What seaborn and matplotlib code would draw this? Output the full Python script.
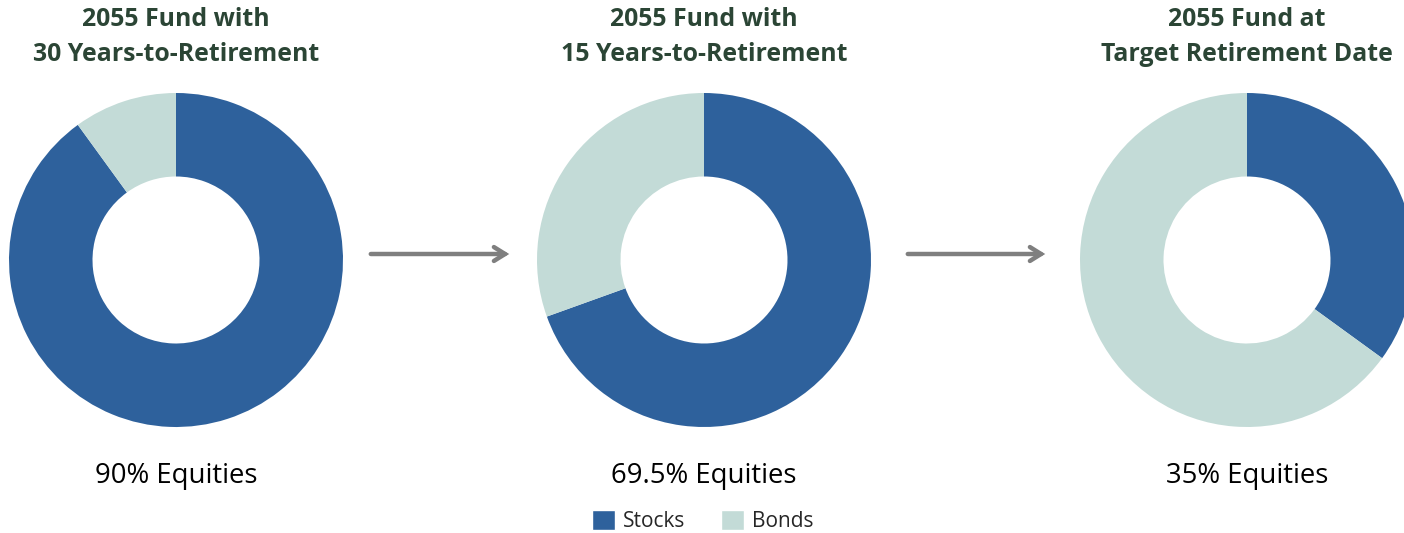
import matplotlib
matplotlib.use("Agg")
import matplotlib.pyplot as plt
from matplotlib.patches import Patch, FancyArrowPatch
import seaborn as sns

sns.set_theme(style="white")
plt.rcParams['font.family'] = ['Open Sans', 'DejaVu Sans']

titles = ["2055 Fund with\n30 Years-to-Retirement",
          "2055 Fund with\n15 Years-to-Retirement",
          "2055 Fund at\nTarget Retirement Date"]
stocks = [90.0, 69.5, 35.0]
bonds = [10.0, 30.5, 65.0]
labels = ["90% Equities", "69.5% Equities", "35% Equities"]
series = ["Stocks", "Bonds"]

colors = ["#2E619C", "#C3DBD7"]
title_color = "#2B4535"

W, H = 1404, 533
fig = plt.figure(figsize=(W / 100, H / 100), dpi=100)
fig.patch.set_facecolor("white")

centers_x = [176, 704, 1247]
cy = 260
r = 167

for i in range(3):
    cx = centers_x[i]
    ax = fig.add_axes([(cx - r) / W, (H - cy - r) / H, 2 * r / W, 2 * r / H])
    ax.pie([stocks[i], bonds[i]], colors=colors, startangle=90, counterclock=False,
           radius=1.0, wedgeprops=dict(width=0.5, edgecolor="none"))
    ax.set_xlim(-1, 1)
    ax.set_ylim(-1, 1)
    ax.set_aspect("equal")
    ax.axis("off")
    fig.text(cx / W, 1 - 37 / H, titles[i], ha="center", va="center",
             fontsize=17.9, fontweight="bold", color=title_color, linespacing=1.55)
    fig.text(cx / W, 1 - 476 / H, labels[i], ha="center", va="center",
             fontsize=19.8, color="black")

# arrows between donuts
for x0, x1 in [(368, 512), (905, 1048)]:
    fig.add_artist(FancyArrowPatch(
        (x0 / W, 1 - 254 / H), (x1 / W, 1 - 254 / H), transform=fig.transFigure,
        arrowstyle="->,head_length=8,head_width=5", color="#7F7F7F", linewidth=3.2,
        capstyle="round", joinstyle="miter"))

handles = [Patch(facecolor=colors[0], label=series[0]),
           Patch(facecolor=colors[1], label=series[1])]
fig.legend(handles=handles, loc="center", bbox_to_anchor=(703 / W, 1 - 521 / H),
           ncol=2, frameon=False, fontsize=15, handlelength=1.1, handleheight=1.1,
           columnspacing=1.7, handletextpad=0.4)

fig.savefig("out.png", dpi=100, facecolor="white")
